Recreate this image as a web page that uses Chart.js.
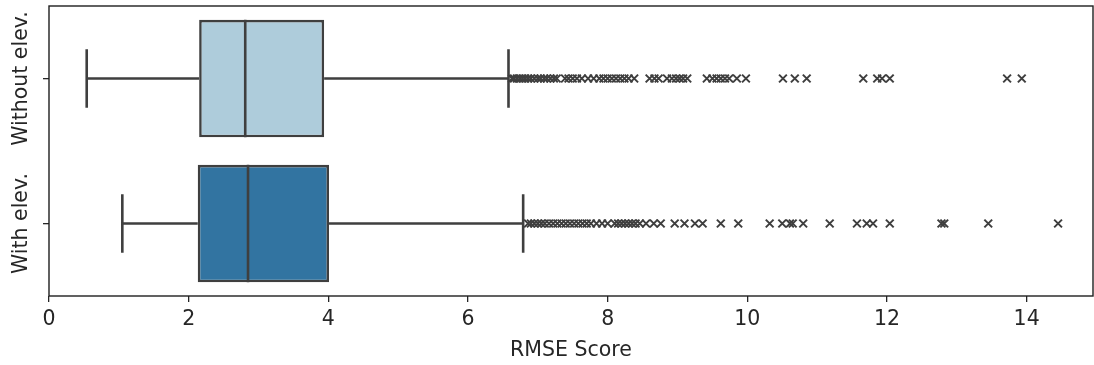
<!DOCTYPE html>
<html>
<head>
<meta charset="utf-8">
<script src="https://cdn.jsdelivr.net/npm/chart.js@4.4.1/dist/chart.umd.min.js"></script>
<style>
  html, body { margin: 0; padding: 0; background: #ffffff; }
  canvas { display: block; }
</style>
</head>
<body>
<canvas id="chart" width="1094" height="365"></canvas>
<script>
// RMSE distributions, with and without elevation input
const groups = ['Without elev.', 'With elev.'];
const whiskerLow = [0.54, 1.05];
const q1 = [2.15, 2.13];
const median = [2.81, 2.85];
const q3 = [3.94, 4.01];
const whiskerHigh = [6.58, 6.79];

const outliersWithout = [
  6.63, 6.66, 6.70, 6.74, 6.78, 6.82, 6.86, 6.90, 6.95, 7.00, 7.04, 7.09, 7.13, 7.18, 7.23, 7.27,
  7.39, 7.44, 7.50, 7.56, 7.63, 7.72, 7.80, 7.88, 7.94, 8.00, 8.06, 8.12, 8.18, 8.24, 8.30, 8.38,
  8.60, 8.67, 8.73, 8.85, 8.92, 8.98, 9.03, 9.08, 9.14,
  9.42, 9.50, 9.56, 9.62, 9.68, 9.74, 9.85, 9.98,
  10.51, 10.68, 10.85, 11.66, 11.86, 11.93, 12.04, 13.72, 13.93
];
const outliersWith = [
  6.86, 6.90, 6.95, 7.00, 7.05, 7.10, 7.16, 7.22, 7.28, 7.34, 7.40, 7.46, 7.52, 7.58, 7.64, 7.70,
  7.76, 7.84, 7.92, 8.00, 8.10, 8.15, 8.20, 8.25, 8.30, 8.35, 8.40, 8.46, 8.55, 8.66, 8.76,
  8.96, 9.10, 9.25, 9.36, 9.62, 9.87, 10.32, 10.50, 10.61, 10.65, 10.80, 11.18,
  11.57, 11.71, 11.80, 12.04, 12.78, 12.82, 13.45, 14.45
];

const xMin = 0;
const xMax = 14.95;
const xStep = 2;
const xTitle = 'RMSE Score';

const boxColors = ['#aeccdb', '#3274a1'];
const lineGray = '#3f3f3f';
const inkColor = '#262626';
const fontFamily = "'DejaVu Sans', 'Liberation Sans', sans-serif";
const fontSize = 20.5;

Chart.defaults.font.family = fontFamily;
Chart.defaults.font.size = fontSize;
Chart.defaults.color = inkColor;

// whiskers, caps and medians drawn against the chart's scales
const boxExtras = {
  id: 'boxExtras',
  beforeDatasetsDraw(chart) {
    const ctx = chart.ctx;
    const xs = chart.scales.x;
    const bars = chart.getDatasetMeta(0).data;
    ctx.save();
    ctx.strokeStyle = lineGray;
    ctx.lineWidth = 2.6;
    ctx.lineCap = 'butt';
    bars.forEach((bar, i) => {
      const { y, height } = bar.getProps(['y', 'height'], true);
      const cap = height / 4;
      const lo = xs.getPixelForValue(whiskerLow[i]);
      const hi = xs.getPixelForValue(whiskerHigh[i]);
      const a = xs.getPixelForValue(q1[i]);
      const b = xs.getPixelForValue(q3[i]);
      ctx.beginPath();
      ctx.moveTo(lo, y); ctx.lineTo(a, y);
      ctx.moveTo(b, y); ctx.lineTo(hi, y);
      ctx.moveTo(lo, y - cap); ctx.lineTo(lo, y + cap);
      ctx.moveTo(hi, y - cap); ctx.lineTo(hi, y + cap);
      ctx.stroke();
    });
    ctx.restore();
  },
  afterDatasetsDraw(chart) {
    const ctx = chart.ctx;
    const xs = chart.scales.x;
    const bars = chart.getDatasetMeta(0).data;
    ctx.save();
    ctx.strokeStyle = lineGray;
    ctx.lineWidth = 2.6;
    bars.forEach((bar, i) => {
      const { y, height } = bar.getProps(['y', 'height'], true);
      const m = xs.getPixelForValue(median[i]);
      ctx.beginPath();
      ctx.moveTo(m, y - height / 2);
      ctx.lineTo(m, y + height / 2);
      ctx.stroke();
    });
    ctx.restore();
  }
};

// full frame around the plot area and rotated category labels
const frameAndLabels = {
  id: 'frameAndLabels',
  afterDraw(chart) {
    const ctx = chart.ctx;
    const area = chart.chartArea;
    const ys = chart.scales.y;
    ctx.save();
    ctx.strokeStyle = '#1f1f1f';
    ctx.lineWidth = 1.4;
    ctx.strokeRect(area.left, area.top, area.right - area.left, area.bottom - area.top);
    ctx.fillStyle = inkColor;
    ctx.font = fontSize + 'px ' + fontFamily;
    ctx.textAlign = 'center';
    ctx.textBaseline = 'middle';
    chart.data.labels.forEach((label, i) => {
      const y = ys.getPixelForTick(i);
      ctx.save();
      ctx.translate(22, y);
      ctx.rotate(-Math.PI / 2);
      ctx.fillText(label, 0, 0);
      ctx.restore();
    });
    ctx.restore();
  }
};

const boxData = groups.map((g, i) => [q1[i], q3[i]]);
const outlierPoints = []
  .concat(outliersWithout.map(v => ({ x: v, y: groups[0] })))
  .concat(outliersWith.map(v => ({ x: v, y: groups[1] })));

new Chart(document.getElementById('chart'), {
  type: 'bar',
  data: {
    labels: groups,
    datasets: [
      {
        label: 'IQR',
        data: boxData,
        backgroundColor: boxColors,
        borderColor: lineGray,
        borderWidth: 2.6,
        borderSkipped: false,
        categoryPercentage: 0.81,
        barPercentage: 1.0,
        order: 2
      },
      {
        type: 'scatter',
        label: 'Outliers',
        data: outlierPoints,
        pointStyle: 'crossRot',
        pointRadius: 5.5,
        pointBorderWidth: 2,
        pointBorderColor: lineGray,
        pointBackgroundColor: 'rgba(0,0,0,0)',
        order: 1
      }
    ]
  },
  options: {
    indexAxis: 'y',
    responsive: false,
    animation: false,
    events: [],
    layout: { autoPadding: false, padding: { left: 0, right: 1, top: 6, bottom: 0 } },
    plugins: {
      legend: { display: false },
      tooltip: { enabled: false }
    },
    scales: {
      x: {
        type: 'linear',
        position: 'bottom',
        min: xMin,
        max: xMax,
        border: { display: false },
        grid: {
          display: true,
          drawOnChartArea: false,
          drawTicks: true,
          tickLength: 6,
          color: '#262626',
          lineWidth: 1.3
        },
        ticks: {
          stepSize: xStep,
          includeBounds: false,
          padding: 5,
          color: inkColor,
          font: { size: fontSize }
        },
        title: {
          display: true,
          text: xTitle,
          color: inkColor,
          font: { size: fontSize },
          padding: { top: 0, bottom: 2 }
        },
        afterFit(scale) {
          scale.height = 69;
          scale.paddingLeft = 0;
          scale.paddingRight = 0;
        }
      },
      y: {
        type: 'category',
        position: 'left',
        offset: true,
        border: { display: false },
        grid: {
          display: true,
          offset: false,
          drawOnChartArea: false,
          drawTicks: true,
          tickLength: 6,
          color: '#262626',
          lineWidth: 1.3
        },
        ticks: { display: false },
        afterFit(scale) { scale.width = 49; }
      }
    }
  },
  plugins: [boxExtras, frameAndLabels]
});
</script>
</body>
</html>
